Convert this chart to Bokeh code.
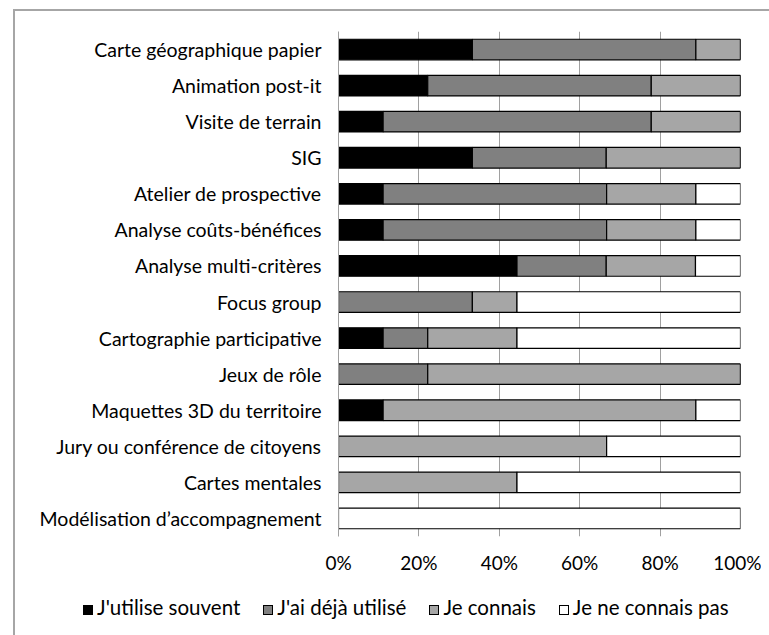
from bokeh.plotting import figure
from bokeh.layouts import column
from bokeh.models import (FactorRange, Range1d, FixedTicker, ColumnDataSource, Div)
from bokeh.embed import file_html
from bokeh.resources import INLINE

categories = [
    "Carte géographique papier",
    "Animation post-it",
    "Visite de terrain",
    "SIG",
    "Atelier de prospective",
    "Analyse coûts-bénéfices",
    "Analyse multi-critères",
    "Focus group",
    "Cartographie participative",
    "Jeux de rôle",
    "Maquettes 3D du territoire",
    "Jury ou conférence de citoyens",
    "Cartes mentales",
    "Modélisation d’accompagnement",
]
souvent = [33.3, 22.2, 11.1, 33.3, 11.1, 11.1, 44.4, 0.0, 11.1, 0.0, 11.1, 0.0, 0.0, 0.0]
deja = [55.6, 55.6, 66.7, 33.3, 55.6, 55.6, 22.2, 33.3, 11.1, 22.2, 0.0, 0.0, 0.0, 0.0]
connais = [11.1, 22.2, 22.2, 33.4, 22.2, 22.2, 22.2, 11.1, 22.2, 77.8, 77.8, 66.7, 44.4, 0.0]
connais_pas = [0.0, 0.0, 0.0, 0.0, 11.1, 11.1, 11.2, 55.6, 55.6, 0.0, 11.1, 33.3, 55.6, 100.0]
series_names = ["J'utilise souvent", "J'ai déjà utilisé", "Je connais", "Je ne connais pas"]
tick_values = [0, 20, 40, 60, 80, 100]
tick_labels = ["0%", "20%", "40%", "60%", "80%", "100%"]

colors = ["#000000", "#808080", "#a6a6a6", "#ffffff"]
FONT = "Lato"
GRID = "#a0a0a0"

source = ColumnDataSource(dict(cat=categories, s1=souvent, s2=deja, s3=connais, s4=connais_pas))

p = figure(width=746, height=575, output_backend="svg", toolbar_location=None,
           y_range=FactorRange(factors=list(reversed(categories))),
           x_range=Range1d(0, 100),
           min_border_left=323, min_border_right=21, min_border_top=20, min_border_bottom=50)

renderers = p.hbar_stack(["s1", "s2", "s3", "s4"], y="cat", height=0.57, color=colors,
                         line_color="black", line_width=1.2, source=source)

p.outline_line_color = None
p.background_fill_color = "white"
p.border_fill_color = "white"

p.ygrid.grid_line_color = None
p.xgrid.grid_line_color = GRID
p.xgrid.grid_line_width = 1
p.xgrid.ticker = FixedTicker(ticks=tick_values)

p.xaxis.ticker = FixedTicker(ticks=tick_values)
p.xaxis.major_label_overrides = {v: l for v, l in zip(tick_values, tick_labels)}
p.xaxis.axis_line_color = None
p.xaxis.major_tick_line_color = None
p.xaxis.major_tick_out = 0
p.xaxis.major_tick_in = 0
p.xaxis.minor_tick_line_color = None
p.xaxis.major_label_text_font = FONT
p.xaxis.major_label_text_font_size = "19px"
p.xaxis.major_label_text_color = "#000000"
p.xaxis.major_label_standoff = 14

p.yaxis.axis_line_color = GRID
p.yaxis.major_tick_line_color = None
p.yaxis.minor_tick_line_color = None
p.yaxis.major_label_text_font = FONT
p.yaxis.major_label_text_font_size = "19.5px"
p.yaxis.major_label_text_color = "#000000"
p.yaxis.major_label_standoff = 11

# HTML legend below the chart
parts = []
for i, (name, c) in enumerate(zip(series_names, colors)):
    if i > 0:
        parts.append("<span style='display:inline-block;width:23px;'></span>")
    parts.append(
        f"<span style='display:inline-block;width:10px;height:10px;background:{c};"
        "border:1.5px solid #000;margin-right:4px;vertical-align:baseline;'></span>"
        f"<span>{name}</span>"
    )
legend_div = Div(text="".join(parts), width=746, height=41,
                 styles={"font-family": FONT, "font-size": "20.5px", "color": "#000",
                         "line-height": "32px", "padding-left": "63px", "white-space": "nowrap",
                         "box-sizing": "border-box", "background": "white"})

layout = column(p, legend_div, spacing=0,
                styles={"border-left": "2px solid #a6a6a6", "border-top": "2px solid #a6a6a6",
                        "margin-left": "13px", "margin-top": "9px"})

open("out.html", "w").write(file_html(layout, INLINE))
